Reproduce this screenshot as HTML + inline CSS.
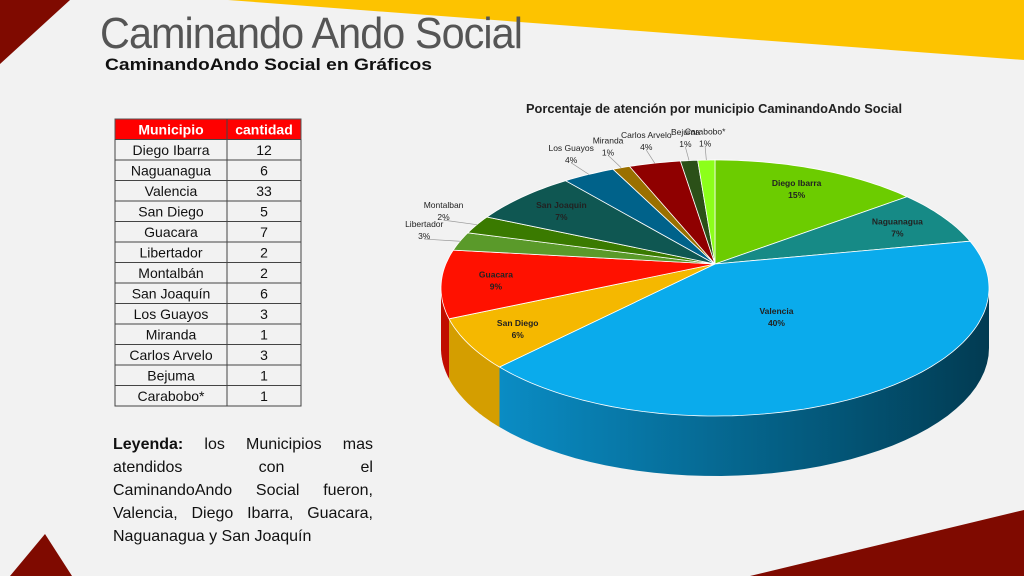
<!DOCTYPE html>
<html><head><meta charset="utf-8"><style>
html,body{margin:0;padding:0;background:#f2f2f2;}
svg{display:block}
</style></head><body>
<svg id="s" width="1024" height="576" viewBox="0 0 1024 576" xmlns="http://www.w3.org/2000/svg">
<defs>
<linearGradient id="vg" x1="0" x2="1" y1="0" y2="0">
<stop offset="0" stop-color="#0a8cc4"/><stop offset="0.7" stop-color="#035576"/><stop offset="1" stop-color="#023b52"/>
</linearGradient>
</defs>
<rect width="1024" height="576" fill="#f2f2f2"/>
<polygon points="0,0 70,0 0,64" fill="#7f0a00"/>
<polygon points="228,0 1024,0 1024,60" fill="#fdc300"/>
<polygon points="45,534 10,576 72,576" fill="#7f0a00"/>
<polygon points="750,576 1024,510 1024,576" fill="#7f0a00"/>
<text x="100" y="48" font-family="'Liberation Sans',sans-serif" font-size="44" fill="#555" textLength="422" lengthAdjust="spacingAndGlyphs" letter-spacing="-1">Caminando Ando Social</text>
<text x="105" y="70" font-family="'Liberation Sans',sans-serif" font-weight="bold" font-size="17" fill="#111" textLength="327" lengthAdjust="spacingAndGlyphs">CaminandoAndo Social en Gráficos</text>
<g id="table"></g>
<g id="legend" font-family="'Liberation Sans',sans-serif" font-size="16" fill="#111"></g>
<text x="714" y="113" text-anchor="middle" font-family="'Liberation Sans',sans-serif" font-weight="bold" font-size="12.5" fill="#222" textLength="376" lengthAdjust="spacingAndGlyphs">Porcentaje de atención por municipio CaminandoAndo Social</text>
<g id="pie"></g>
</svg>
<script>
const categories=["Diego Ibarra","Naguanagua","Valencia","San Diego","Guacara","Libertador","Montalbán","San Joaquín","Los Guayos","Miranda","Carlos Arvelo","Bejuma","Carabobo*"];
const pieLabels=["Diego Ibarra","Naguanagua","Valencia","San Diego","Guacara","Libertador","Montalban","San Joaquin","Los Guayos","Miranda","Carlos Arvelo","Bejuma","Carabobo*"];
const values=[12,6,33,5,7,2,2,6,3,1,3,1,1];
const pctLabels=["15%","7%","40%","6%","9%","3%","2%","7%","4%","1%","4%","1%","1%"];
const colors=["#6ccc00","#168a86","#0aabec","#f5b800","#ff1100","#5a9a2a","#3a7a00","#0f5752","#00628a","#9a7000","#8f0000","#2b5018","#8cff1a"];
const sides=["#4f9600","#0f6360","url(#vg)","#d49e00","#c00d00","#3f6d1d","#285400","#0a3c38","#00435f","#6a4d00","#600000","#1c3510","#60b010"];
const NS="http://www.w3.org/2000/svg";
function mk(tag,attrs,parent){const e=document.createElementNS(NS,tag);for(const k in attrs)e.setAttribute(k,attrs[k]);parent.appendChild(e);return e;}
// table
const tb=document.getElementById('table');
const tx0=115,tx1=227,tx2=301,ty0=119,hh=20.5,rh=20.5;
let hr=mk('rect',{x:tx0,y:ty0,width:tx2-tx0,height:hh,fill:'#ff0000',stroke:'#555'},tb);


let t1=mk('text',{x:(tx0+tx1)/2,y:ty0+15.5,'text-anchor':'middle','font-family':"'Liberation Sans',sans-serif",'font-weight':'bold','font-size':14,fill:'#fff'},tb);t1.textContent='Municipio';


let t2=mk('text',{x:(tx1+tx2)/2,y:ty0+15.5,'text-anchor':'middle','font-family':"'Liberation Sans',sans-serif",'font-weight':'bold','font-size':14,fill:'#fff'},tb);t2.textContent='cantidad';


categories.forEach((c,i)=>{
  const y=ty0+hh+i*rh;
  const r=mk('rect',{x:tx0,y:y,width:tx2-tx0,height:rh,fill:'none',stroke:'#444','stroke-width':1},tb);
  
  
  const a=mk('text',{x:(tx0+tx1)/2,y:y+15.5,'text-anchor':'middle','font-family':"'Liberation Sans',sans-serif",'font-size':14,fill:'#111'},tb);a.textContent=c;
  
  
  const b=mk('text',{x:(tx1+tx2)/2,y:y+15.5,'text-anchor':'middle','font-family':"'Liberation Sans',sans-serif",'font-size':14,fill:'#111'},tb);b.textContent=values[i];
  
  
});
mk('line',{x1:tx1,y1:ty0,x2:tx1,y2:ty0+hh+categories.length*rh,stroke:'#444'},tb);
// legend, justified
const lg=document.getElementById('legend');
const lines=[["Leyenda:","los","Municipios","mas"],["atendidos","con","el"],["CaminandoAndo","Social","fueron,"],["Valencia,","Diego","Ibarra,","Guacara,"],["Naguanagua y San Joaquín"]];
const LX=113,LW=260;
lines.forEach((ws,li)=>{
  const y=449+li*23;
  const els=ws.map((w,wi)=>{const t=mk('text',{x:0,y:y,'font-weight':(li==0&&wi==0)?'bold':'normal'},lg);t.textContent=w;
    
    
    return t;});
  if(ws.length==1){els[0].setAttribute('x',LX);return;}
  const lens=els.map(e=>e.getComputedTextLength());
  const gap=(LW-lens.reduce((a,b)=>a+b,0))/(ws.length-1);
  let x=LX;els.forEach((e,i)=>{e.setAttribute('x',x.toFixed(1));x+=lens[i]+gap;});
});
// pie
const pie=document.getElementById('pie');
const cx=715,cy=288,rx=274,ry=128,depth=60,ax=715,ay=264,K=0.46;
const total=values.reduce((a,b)=>a+b,0);
function edge(t){
  const dx=Math.sin(t),dy=-K*Math.cos(t);
  const ox=ax-cx,oy=ay-cy;
  const A=dx*dx/(rx*rx)+dy*dy/(ry*ry),B=2*(ox*dx/(rx*rx)+oy*dy/(ry*ry)),C=ox*ox/(rx*rx)+oy*oy/(ry*ry)-1;
  const s=(-B+Math.sqrt(B*B-4*A*C))/(2*A);
  return [ax+dx*s,ay+dy*s];
}
function phi(p){let f=Math.atan2((p[0]-cx)/rx,-(p[1]-cy)/ry);if(f<0)f+=2*Math.PI;return f;}
function ep(f,dy){return [cx+rx*Math.sin(f),cy-ry*Math.cos(f)+(dy||0)];}
let acc=0;const angs=[];
values.forEach(v=>{const a0=acc/total*2*Math.PI;acc+=v;angs.push([a0,acc/total*2*Math.PI]);});
angs.forEach(([a0,a1],i)=>{
  let f0=phi(edge(a0)),f1=phi(edge(a1));if(i==0)f0=0;if(f1<f0)f1+=2*Math.PI;if(i==values.length-1&&f1<0.01)f1=2*Math.PI;
  const s=Math.max(f0,Math.PI/2),e=Math.min(f1,1.5*Math.PI);
  if(e<=s)return;
  let d='';const N=40;
  for(let k=0;k<=N;k++){const p=ep(s+(e-s)*k/N);d+=(k?'L':'M')+p[0].toFixed(1)+','+p[1].toFixed(1);}
  for(let k=N;k>=0;k--){const p=ep(s+(e-s)*k/N,depth);d+='L'+p[0].toFixed(1)+','+p[1].toFixed(1);}
  const p=mk('path',{d:d+'Z',fill:sides[i]},pie);
  
  
});
angs.forEach(([a0,a1],i)=>{
  let d='M'+ax+','+ay;const N=Math.max(4,Math.ceil((a1-a0)*40));
  for(let k=0;k<=N;k++){const p=edge(a0+(a1-a0)*k/N);d+='L'+p[0].toFixed(1)+','+p[1].toFixed(1);}
  const p=mk('path',{d:d+'Z',fill:colors[i],stroke:'#fff','stroke-width':0.8},pie);
  
  
});
angs.forEach(([a0,a1],i)=>{
  const m=(a0+a1)/2;const share=values[i]/total;const inside=share>=0.05;
  const e=edge(m);
  const f=inside?(share>0.3?0.4:0.8):1.14;
  let x=ax+(e[0]-ax)*f, y=ay+(e[1]-ay)*f;
  if(!inside){mk('line',{x1:e[0],y1:e[1],x2:x,y2:y+1,stroke:'#999','stroke-width':0.7},pie);y-=11;}
  else y-=2;
  const g=mk('text',{x:x,y:y,'text-anchor':'middle','font-family':"'Liberation Sans',sans-serif",'font-size':8.5,fill:'#222','font-weight':inside?'bold':'normal'},pie);
  
  
  const s1=mk('tspan',{x:x,dy:0},g);s1.textContent=pieLabels[i];
  const s2=mk('tspan',{x:x,dy:12},g);s2.textContent=pctLabels[i];
});
</script>
</body></html>
